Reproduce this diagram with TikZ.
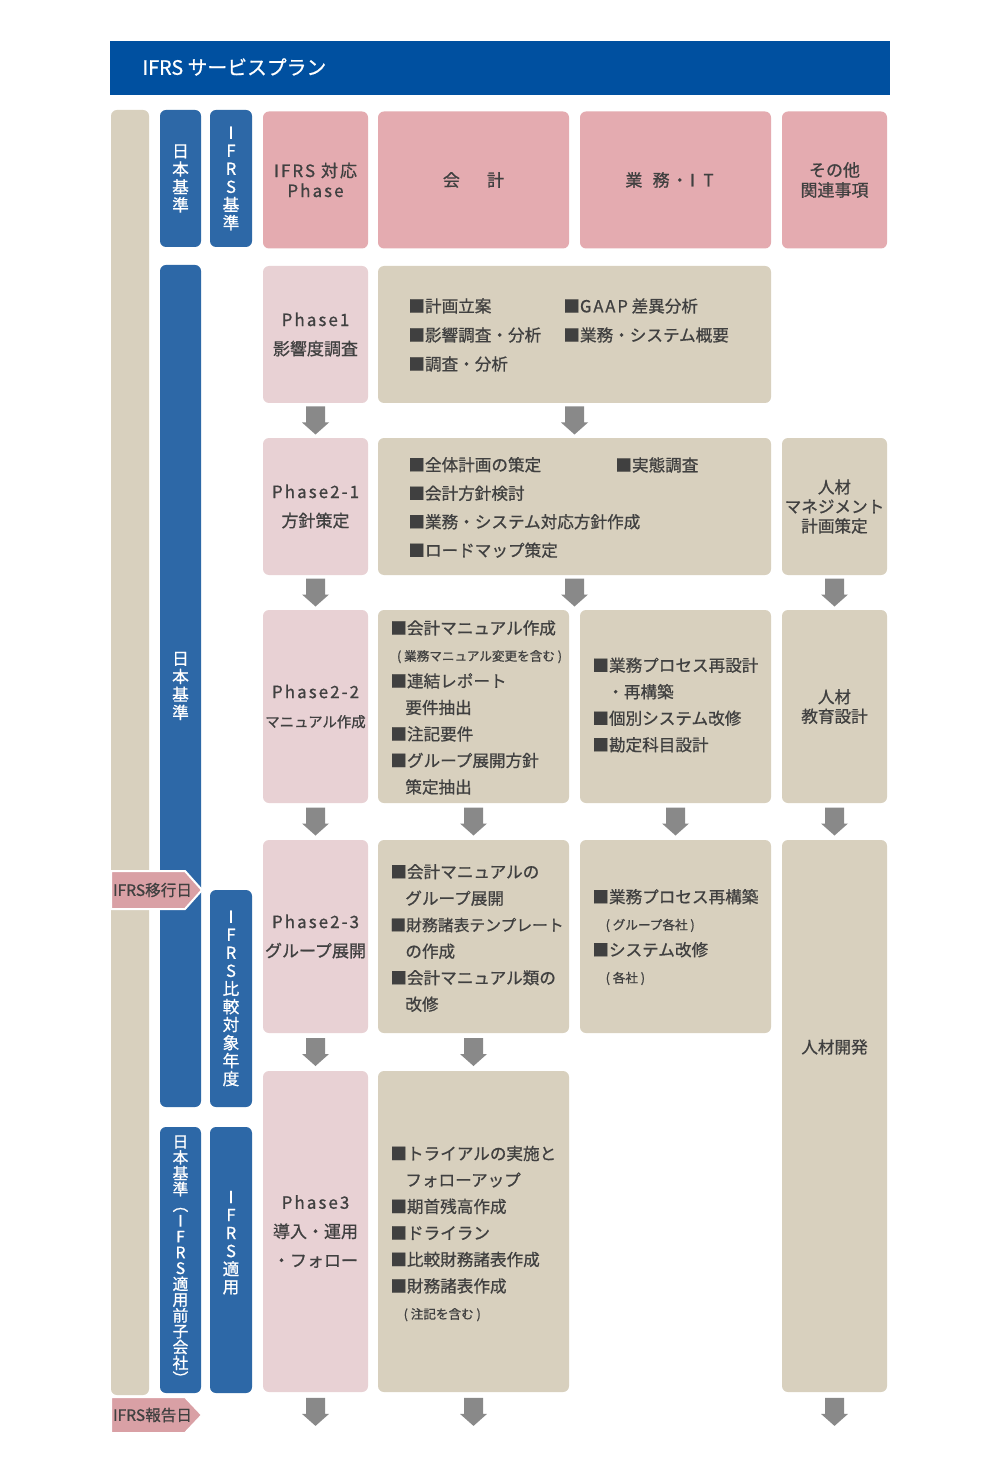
\documentclass[tikz,border=0pt]{standalone}
\usepackage{fontspec}
\setmainfont{Noto Sans CJK JP}[FakeBold=0.8]
\newfontfamily\phasefont{Noto Sans CJK JP}[FakeBold=0.8, LetterSpace=12]
\usepackage{xcolor}
\usepackage{tikz}
\usetikzlibrary{shapes,positioning,calc}

\definecolor{hdrblue}{HTML}{0050A0}
\definecolor{colblue}{HTML}{2D68A7}
\definecolor{headpink}{HTML}{E4ABB0}
\definecolor{phasepink}{HTML}{E8D1D4}
\definecolor{beige}{HTML}{D8D0BE}
\definecolor{tagpink}{HTML}{D9A0A5}
\definecolor{txtgray}{HTML}{404040}
\definecolor{arrgray}{HTML}{898989}

\newcommand\subnote[1]{{\fontsize{6.3}{7}\selectfont #1}}
\newcommand\indnt{\hspace*{0.9em}}

\begin{document}
\begin{tikzpicture}[x=0.5pt, y=-0.5pt,
  cell/.style={rectangle, rounded corners=3pt, inner sep=0pt},
  headcell/.style={cell, fill=headpink, text=txtgray, align=center, font=\fontsize{8.5}{10}\selectfont},
  phasecell/.style={cell, fill=phasepink, text=txtgray, align=center, font=\fontsize{8.5}{14.5}\selectfont},
  workcell/.style={cell, fill=beige, text=txtgray, align=center, font=\fontsize{8.3}{9.75}\selectfont},
  bluecol/.style={cell, fill=colblue, text=white, align=center, font=\fontsize{8.3}{9}\selectfont},
  itemtxt/.style={text=txtgray, align=left, anchor=west, inner sep=0pt, font=\fontsize{8.3}{#1}\selectfont},
  itemtxt/.default=13.25,
  tagshape/.style={fill=tagpink, draw=white, line width=1pt},
  tagtxt/.style={text=txtgray, inner sep=0pt, font=\fontsize{7.8}{8}\selectfont},
  downarr/.pic={\fill[arrgray] (-4.75pt,7pt) -- (4.75pt,7pt) -- (4.75pt,-1pt) -- (6.75pt,-1pt)
    -- (0pt,-7pt) -- (-6.75pt,-1pt) -- (-4.75pt,-1pt) -- cycle;}
]
  \fill[white] (0,0) rectangle (1000,1470);
  \useasboundingbox (0,0) rectangle (1000,1470);

  % Title bar
  \node[fill=hdrblue, minimum width=390pt, minimum height=27pt, inner sep=0pt] (title) at (500,68) {};
  \node[anchor=west, text=white, font=\fontsize{9.9}{10}\selectfont, inner sep=0pt] (titletxt) at (142,67) {IFRS サービスプラン};

  % Time axis and standard columns
  \node[cell, fill=beige, minimum width=19pt, minimum height=642.5pt] (axis) at (130,752.5) {};
  \node[bluecol, minimum width=20.5pt, minimum height=68.5pt] (jp1) at (180.5,178.5) {日\\本\\基\\準};
  \node[bluecol, minimum width=21pt, minimum height=68.5pt] (if1) at (231,178.5) {I\\F\\R\\S\\基\\準};
  \node[bluecol, minimum width=20.5pt, minimum height=421pt] (jp2) at (180.5,686) {日\\本\\基\\準};
  \node[bluecol, minimum width=21pt, minimum height=108.5pt] (ifcmp) at (231,998.5) {I\\F\\R\\S\\比\\較\\対\\象\\年\\度};
  \node[bluecol, minimum width=20.5pt, minimum height=133pt, font=\fontsize{7.9}{7.9}\selectfont] (jp3) at (180.5,1260) {日\\本\\基\\準\\︵\\I\\F\\R\\S\\適\\用\\前\\子\\会\\社\\︶};
  \node[bluecol, minimum width=21pt, minimum height=133pt] (ifapp) at (231,1260) {I\\F\\R\\S\\適\\用\\[9pt]};

  % Date tags
  \draw[tagshape] (111,871) -- (185,871) -- (202,890) -- (185,909) -- (111,909) -- cycle;
  \node[tagtxt] (shiftday) at (152.5,890) {IFRS移行日};
  \draw[tagshape] (111,1397) -- (185,1397) -- (202,1415) -- (185,1433) -- (111,1433) -- cycle;
  \node[tagtxt] (reportday) at (152.5,1415) {IFRS報告日};

  % Column heads
  \node[headcell, minimum width=52.5pt, minimum height=68.5pt] (hphase) at (315.5,180) {\phasefont IFRS 対応\\\phasefont Phase};
  \node[headcell, minimum width=95.5pt, minimum height=68.5pt] (hacc) at (473.5,180) {会\hspace{1.6em}計};
  \node[headcell, minimum width=95.5pt, minimum height=68.5pt] (hbiz) at (675.5,180) {業\hspace{0.6em}務\hspace{0.1em}・\hspace{0.1em}I\hspace{0.5em}T\hspace*{0.7em}};
  \node[headcell, minimum width=52.5pt, minimum height=68.5pt] (hoth) at (834.5,180) {その他\\関連事項};

  % Phases
  \node[phasecell, minimum width=52.5pt, minimum height=68.5pt] (p1) at (315.5,334.5) {{\phasefont Phase1}\\影響度調査};
  \node[phasecell, minimum width=52.5pt, minimum height=68.5pt] (p21) at (315.5,506.5) {{\phasefont Phase2-1}\\方針策定};
  \node[phasecell, minimum width=52.5pt, minimum height=96.5pt] (p22) at (315.5,706.5) {{\phasefont Phase2-2}\\{\fontsize{7.2}{14.5}\selectfont マニュアル作成}};
  \node[phasecell, minimum width=52.5pt, minimum height=96.5pt] (p23) at (315.5,936.5) {{\phasefont Phase2-3}\\グループ展開};
  \node[phasecell, minimum width=52.5pt, minimum height=160.5pt] (p3) at (315.5,1231.5) {{\phasefont Phase3}\\導入・運用\\・フォロー};

  % Row 1
  \node[cell, fill=beige, minimum width=196.5pt, minimum height=68.5pt] (r1) at (574.5,334.5) {};
  \node[itemtxt=14.5] (r1l) at (408,335) {■計画立案\\■影響調査・分析\\■調査・分析};
  \node[itemtxt=14.5] (r1r) at (563,320.5) {■{\phasefont GAAP} 差異分析\\■業務・システム概要};

  % Row 2
  \node[cell, fill=beige, minimum width=196.5pt, minimum height=68.5pt] (r2) at (574.5,506.5) {};
  \node[itemtxt=14.25] (r2l) at (408,507.5) {■全体計画の策定\\■会計方針検討\\■業務・システム対応方針作成\\■ロードマップ策定};
  \node[itemtxt] (r2r) at (615,465) {■実態調査};
  \node[workcell, minimum width=52.5pt, minimum height=68.5pt] (o2) at (834.5,506.5) {人材\\マネジメント\\計画策定};

  % Row 3
  \node[cell, fill=beige, minimum width=95.5pt, minimum height=96.5pt] (a3) at (473.5,706.5) {};
  \node[itemtxt] (a3t) at (390,707.5) {■会計マニュアル作成\\\hspace*{0.4em}\subnote{( 業務マニュアル変更を含む )}\\■連結レポート\\\indnt 要件抽出\\■注記要件\\■グループ展開方針\\\indnt 策定抽出};
  \node[cell, fill=beige, minimum width=95.5pt, minimum height=96.5pt] (b3) at (675.5,706.5) {};
  \node[itemtxt] (b3t) at (592,705) {■業務プロセス再設計\\\indnt ・再構築\\■個別システム改修\\■勘定科目設計};
  \node[workcell, minimum width=52.5pt, minimum height=96.5pt] (o3) at (834.5,706.5) {人材\\教育設計};

  % Row 4
  \node[cell, fill=beige, minimum width=95.5pt, minimum height=96.5pt] (a4) at (473.5,936.5) {};
  \node[itemtxt] (a4t) at (390,938) {■会計マニュアルの\\\indnt グループ展開\\{\fontsize{7.9}{13.25}\selectfont ■財務諸表テンプレート}\\\indnt の作成\\■会計マニュアル類の\\\indnt 改修};
  \node[cell, fill=beige, minimum width=95.5pt, minimum height=96.5pt] (b4) at (675.5,936.5) {};
  \node[itemtxt] (b4t) at (592,937) {■業務プロセス再構築\\\hspace*{0.8em}\subnote{( グループ各社 )}\\■システム改修\\\hspace*{0.8em}\subnote{( 各社 )}};
  \node[cell, fill=beige, minimum width=52.5pt, minimum height=276pt] (o4) at (834.5,1116) {};
  \node[text=txtgray, font=\fontsize{8.3}{9.75}\selectfont, inner sep=0pt] (o4t) at (834.5,1047) {人材開発};

  % Row 5
  \node[cell, fill=beige, minimum width=95.5pt, minimum height=160.5pt] (a5) at (473.5,1231.5) {};
  \node[itemtxt] (a5t) at (390,1233.5) {■トライアルの実施と\\\indnt フォローアップ\\■期首残高作成\\■ドライラン\\■比較財務諸表作成\\■財務諸表作成\\\hspace*{0.8em}\subnote{( 注記を含む )}};

  % Arrows between rows
  \pic at ($(p1.south)!.5!(p21.north)$) {downarr};
  \pic at ($(r1.south)!.5!(r2.north)$) {downarr};
  \pic at ($(p21.south)!.5!(p22.north)$) {downarr};
  \pic at ($(r2.south)!.5!(r2.south |- a3.north)$) {downarr};
  \pic at ($(o2.south)!.5!(o3.north)$) {downarr};
  \pic at ($(p22.south)!.5!(p23.north)$) {downarr};
  \pic at ($(a3.south)!.5!(a4.north)$) {downarr};
  \pic at ($(b3.south)!.5!(b4.north)$) {downarr};
  \pic at ($(o3.south)!.5!(o4.north)$) {downarr};
  \pic at ($(p23.south)!.5!(p3.north)$) {downarr};
  \pic at ($(a4.south)!.5!(a5.north)$) {downarr};
  \pic at ($(p3.south)+(0,19.5)$) {downarr};
  \pic at ($(a5.south)+(0,19.5)$) {downarr};
  \pic at ($(o4.south)+(0,19.5)$) {downarr};
\end{tikzpicture}
\end{document}
